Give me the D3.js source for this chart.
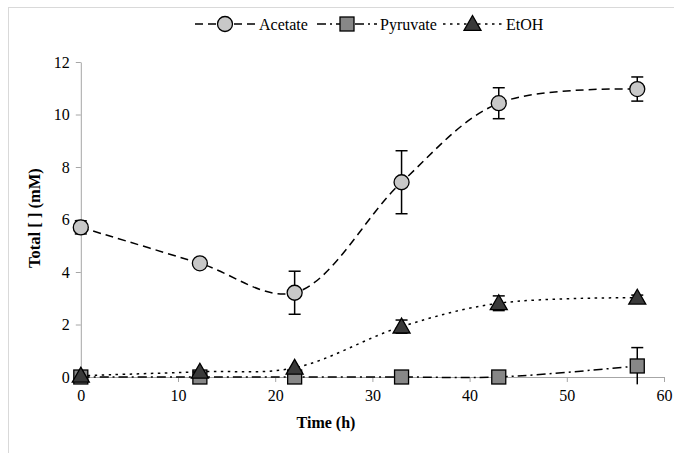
<!DOCTYPE html>
<html>
<head>
<meta charset="utf-8">
<script src="https://cdn.jsdelivr.net/npm/d3@7"></script>
<style>
  html, body { margin: 0; padding: 0; background: #fff; }
  svg { display: block; }
  svg text { font-family: "Liberation Serif", serif; }
</style>
</head>
<body>
<svg id="chart" width="674" height="453" font-family="Liberation Serif"></svg>
<script>
// Data
const time = [0, 12.25, 22, 33, 43, 57.25];
const acetate = [5.7, 4.33, 3.21, 7.42, 10.43, 10.97];
const acetateErr = [0.25, 0.1, 0.82, 1.2, 0.59, 0.46];
const pyruvate = [0, 0, 0, 0, 0, 0.42];
const pyruvateErr = [0, 0, 0, 0, 0, 0.7];
const ethanol = [0.05, 0.2, 0.35, 1.92, 2.81, 3.02];
const ethanolErr = [0, 0, 0, 0.25, 0.28, 0.1];
const xTicks = [0, 10, 20, 30, 40, 50, 60];
const yTicks = [0, 2, 4, 6, 8, 10, 12];
const seriesNames = ["Acetate", "Pyruvate", "EtOH"];

const svg = d3.select("#chart");
const W = 674, H = 453;
const FONT = "Liberation Serif";

// frame lines (top and left)
svg.append("line").attr("x1", 8).attr("x2", W).attr("y1", 7.5).attr("y2", 7.5)
  .attr("stroke", "#d9d9d9").attr("stroke-width", 1);
svg.append("line").attr("x1", 8.5).attr("x2", 8.5).attr("y1", 7).attr("y2", H)
  .attr("stroke", "#d9d9d9").attr("stroke-width", 1);

const x = d3.scaleLinear().domain([0, 60]).range([80.8, 664]);
const y = d3.scaleLinear().domain([0, 12]).range([377, 62]);

// axes
const xAxis = svg.append("g").attr("transform", `translate(0,${y(0)})`)
  .call(d3.axisBottom(x).tickValues(xTicks).tickSize(5).tickPadding(8).tickSizeOuter(0));
const yAxis = svg.append("g").attr("transform", `translate(${x(0)},0)`)
  .call(d3.axisLeft(y).tickValues(yTicks).tickSize(5).tickPadding(6).tickSizeOuter(0));
[xAxis, yAxis].forEach(g => {
  g.attr("font-family", FONT).attr("font-size", 16);
  g.select(".domain").attr("stroke", "#a6a6a6");
  g.selectAll(".tick line").attr("stroke", "#a6a6a6");
  g.selectAll(".tick text").attr("fill", "#000");
});

// axis titles
svg.append("text").attr("x", 326).attr("y", 428).attr("text-anchor", "middle")
  .attr("font-family", FONT).attr("font-size", 16).attr("font-weight", "bold").text("Time (h)");
svg.append("text").attr("transform", `translate(40,218) rotate(-90)`)
  .attr("text-anchor", "middle")
  .attr("font-family", FONT).attr("font-size", 16.5).attr("font-weight", "bold").text("Total [ ] (mM)");

const styles = {
  Acetate: { vals: acetate, err: acetateErr, dash: "8,5", shape: "circle", fill: "#c8c8c8" },
  Pyruvate: { vals: pyruvate, err: pyruvateErr, dash: "9,4,2,4", shape: "square", fill: "#878787" },
  EtOH: { vals: ethanol, err: ethanolErr, dash: "2.5,4.5", shape: "triangle", fill: "#3a3a3a" }
};

const line = d3.line().x(d => x(d[0])).y(d => y(d[1])).curve(d3.curveCatmullRom.alpha(0.5));

function drawMarker(g, shape, cx, cy, fill) {
  if (shape === "circle") {
    g.append("circle").attr("cx", cx).attr("cy", cy).attr("r", 7.5)
      .attr("fill", fill).attr("stroke", "#000").attr("stroke-width", 1.3);
  } else if (shape === "square") {
    g.append("rect").attr("x", cx - 7).attr("y", cy - 7).attr("width", 14).attr("height", 14)
      .attr("fill", fill).attr("stroke", "#000").attr("stroke-width", 1.3);
  } else {
    const s = 8.5;
    g.append("path").attr("d", `M${cx},${cy - s}L${cx + s},${cy + s * 0.75}L${cx - s},${cy + s * 0.75}Z`)
      .attr("fill", fill).attr("stroke", "#000").attr("stroke-width", 1.3);
  }
}

const drawOrder = ["Pyruvate", "EtOH", "Acetate"];
drawOrder.forEach(name => {
  const st = styles[name];
  const pts = time.map((t, i) => [t, st.vals[i]]);
  const g = svg.append("g");
  g.append("path").attr("d", line(pts)).attr("fill", "none").attr("stroke", "#000")
    .attr("stroke-width", 1.5).attr("stroke-dasharray", st.dash);
  // error bars
  time.forEach((t, i) => {
    const e = st.err[i];
    if (e <= 0) return;
    const cx = x(t), y1 = y(st.vals[i] + e), y2 = y(st.vals[i] - e);
    g.append("line").attr("x1", cx).attr("x2", cx).attr("y1", y1).attr("y2", y2)
      .attr("stroke", "#000").attr("stroke-width", 1.5);
    [y1, y2].forEach(yy => {
      if (st.vals[i] - e < 0 && yy === y2) return;
      g.append("line").attr("x1", cx - 6).attr("x2", cx + 6).attr("y1", yy).attr("y2", yy)
        .attr("stroke", "#000").attr("stroke-width", 1.5);
    });
  });
  time.forEach((t, i) => drawMarker(g, st.shape, x(t), y(st.vals[i]), st.fill));
});

// legend
const legendY = 24;
const legendItems = [
  { name: "Acetate", x0: 195, x1: 255, tx: 259 },
  { name: "Pyruvate", x0: 317, x1: 377, tx: 380 },
  { name: "EtOH", x0: 443, x1: 502, tx: 506 }
];
legendItems.forEach(it => {
  const st = styles[it.name];
  const g = svg.append("g");
  g.append("line").attr("x1", it.x0).attr("x2", it.x1).attr("y1", legendY).attr("y2", legendY)
    .attr("stroke", "#000").attr("stroke-width", 1.5).attr("stroke-dasharray", st.dash);
  drawMarker(g, st.shape, (it.x0 + it.x1) / 2, legendY, st.fill);
  g.append("text").attr("x", it.tx).attr("y", legendY + 5.5)
    .attr("font-family", FONT).attr("font-size", 16).text(it.name);
});
</script>
</body>
</html>
